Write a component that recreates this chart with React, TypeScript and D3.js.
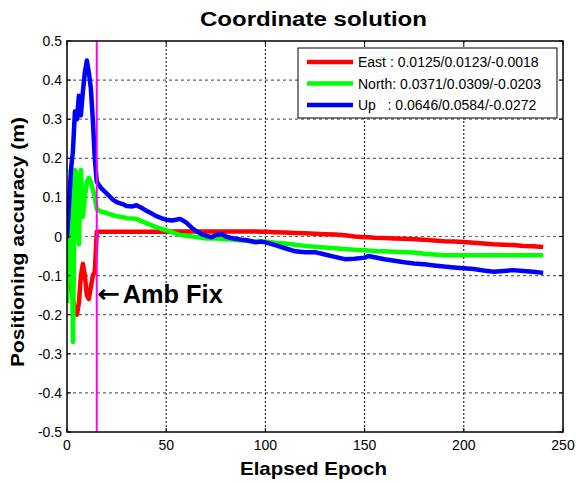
import { useEffect, useRef } from 'react'
import * as d3 from 'd3'

const epochs = [
    0, 1, 2, 3, 4, 5, 6, 7, 8, 9, 10, 11, 12, 13, 14, 15,
    17, 20, 23, 25, 28, 30, 33, 35, 38, 40,
    43, 45, 48, 50, 53, 55, 57, 60, 63, 65,
    68, 70, 73, 75, 78, 80, 83, 85, 88, 90,
    93, 95, 98, 100, 105, 110, 115, 120, 125, 130,
    135, 140, 145, 150, 152, 155, 160, 165, 170, 175,
    180, 185, 190, 195, 200, 205, 210, 215, 220, 225,
    230, 235, 240,
]

const east = [
    -0.12, -0.12, -0.13, -0.16, -0.19, -0.2, -0.17, -0.1, -0.07, -0.1, -0.15, -0.16, -0.13, -0.1, -0.09, 0.012,
    0.012, 0.012, 0.012, 0.012, 0.012, 0.012, 0.012, 0.012, 0.012, 0.012,
    0.012, 0.012, 0.012, 0.012, 0.013, 0.013, 0.013, 0.013, 0.013, 0.013,
    0.013, 0.013, 0.013, 0.013, 0.013, 0.013, 0.013, 0.013, 0.013, 0.013,
    0.013, 0.013, 0.012, 0.012, 0.011, 0.01, 0.009, 0.008, 0.007, 0.006,
    0.005, 0.003, 0.0, -0.002, -0.002, -0.003, -0.004, -0.005, -0.006, -0.007,
    -0.008, -0.01, -0.012, -0.013, -0.014, -0.016, -0.018, -0.02, -0.021, -0.022,
    -0.024, -0.025, -0.027,
]

const north = [
    -0.17, 0.0, 0.17, -0.27, 0.17, 0.16, -0.02, 0.17, 0.05, 0.1, 0.14, 0.15, 0.14, 0.12, 0.1, 0.07,
    0.064, 0.06, 0.055, 0.052, 0.05, 0.047, 0.046, 0.045, 0.038, 0.034,
    0.028, 0.024, 0.019, 0.016, 0.011, 0.007, 0.004, 0.002, 0.0, -0.001,
    -0.003, -0.005, -0.005, -0.005, -0.006, -0.007, -0.008, -0.009, -0.01, -0.011,
    -0.012, -0.012, -0.013, -0.013, -0.016, -0.018, -0.021, -0.024, -0.026, -0.028,
    -0.03, -0.032, -0.034, -0.035, -0.036, -0.037, -0.038, -0.039, -0.04, -0.041,
    -0.044, -0.046, -0.048, -0.048, -0.048, -0.048, -0.048, -0.048, -0.048, -0.048,
    -0.048, -0.048, -0.048,
]

const up = [
    -0.005, 0.08, 0.17, 0.22, 0.32, 0.3, 0.36, 0.31, 0.37, 0.42, 0.45, 0.42, 0.38, 0.3, 0.2, 0.14,
    0.125, 0.11, 0.095, 0.088, 0.083, 0.078, 0.077, 0.08, 0.072, 0.066,
    0.058, 0.052, 0.046, 0.043, 0.041, 0.043, 0.045, 0.036, 0.022, 0.014,
    0.006, 0.002, -0.002, 0.004, 0.006, 0.0, -0.004, -0.006, -0.008, -0.009,
    -0.012, -0.015, -0.013, -0.015, -0.022, -0.03, -0.038, -0.04, -0.04, -0.046,
    -0.052, -0.058, -0.057, -0.054, -0.05, -0.053, -0.058, -0.062, -0.066, -0.069,
    -0.071, -0.074, -0.077, -0.079, -0.081, -0.083, -0.087, -0.09, -0.088, -0.086,
    -0.088, -0.09, -0.093,
]

const seriesNames = ['East : 0.0125/0.0123/-0.0018', 'North: 0.0371/0.0309/-0.0203', 'Up   : 0.0646/0.0584/-0.0272']
const seriesColors = ['#ff0000', '#00ff00', '#0000ff']
const xTicks = [0, 50, 100, 150, 200, 250]
const yTicks = [-0.5, -0.4, -0.3, -0.2, -0.1, 0, 0.1, 0.2, 0.3, 0.4, 0.5]
const fixEpoch = 15

const FONT = 'Liberation Sans, Arial, Helvetica, sans-serif'

export default function App() {
    const svgRef = useRef<SVGSVGElement | null>(null)

    useEffect(() => {
        if (!svgRef.current) return
        const svg = d3.select(svgRef.current)
        svg.selectAll('*').remove()

        const left = 67, right = 563, top = 41, bottom = 432
        const x = d3.scaleLinear().domain([0, 250]).range([left, right])
        const y = d3.scaleLinear().domain([-0.5, 0.5]).range([bottom, top])

        svg.append('rect').attr('width', 576).attr('height', 483).attr('fill', '#fff')
        svg.append('defs').append('clipPath').attr('id', 'plotclip')
            .append('rect').attr('x', left).attr('y', top).attr('width', right - left).attr('height', bottom - top)

        // grid
        svg.selectAll('.hgrid')
            .data(yTicks.filter(t => t > -0.5 && t < 0.5))
            .enter().append('line')
            .attr('x1', left).attr('x2', right)
            .attr('y1', d => y(d)).attr('y2', d => y(d))
            .attr('stroke', '#666').attr('stroke-width', 1.2).attr('stroke-dasharray', '3,3')
        svg.selectAll('.vgrid')
            .data(xTicks.filter(t => t > 0 && t < 250))
            .enter().append('line')
            .attr('x1', d => x(d)).attr('x2', d => x(d))
            .attr('y1', top).attr('y2', bottom)
            .attr('stroke', '#000').attr('stroke-width', 1).attr('stroke-dasharray', '2,2')

        // data lines
        const data = [east, north, up]
        const line = d3.line<number>().x((_, i) => x(epochs[i])).y(d => y(d))
        const g = svg.append('g').attr('clip-path', 'url(#plotclip)')
        data.forEach((vals, k) => {
            g.append('path')
                .attr('d', line(vals))
                .attr('fill', 'none')
                .attr('stroke', seriesColors[k])
                .attr('stroke-width', 4.5)
                .attr('stroke-linejoin', 'round')
        })

        // ambiguity fix marker
        svg.append('line')
            .attr('x1', x(fixEpoch)).attr('x2', x(fixEpoch))
            .attr('y1', top).attr('y2', bottom)
            .attr('stroke', '#ff00ff').attr('stroke-width', 2)

        svg.append('text')
            .attr('x', x(fixEpoch) + 0.5).attr('y', 302)
            .attr('font-family', 'DejaVu Sans, sans-serif').attr('font-size', 24).attr('font-weight', 'bold')
            .attr('textLength', 23).attr('lengthAdjust', 'spacingAndGlyphs')
            .text('\u2190')
        svg.append('text')
            .attr('x', x(fixEpoch) + 26).attr('y', 303)
            .attr('font-family', FONT).attr('font-size', 25).attr('font-weight', 'bold')
            .attr('textLength', 100).attr('lengthAdjust', 'spacingAndGlyphs')
            .text('Amb Fix')

        // box + ticks
        svg.append('rect')
            .attr('x', left).attr('y', top).attr('width', right - left).attr('height', bottom - top)
            .attr('fill', 'none').attr('stroke', '#000').attr('stroke-width', 1.5)
        const tl = 4
        xTicks.forEach(t => {
            svg.append('line').attr('x1', x(t)).attr('x2', x(t)).attr('y1', bottom).attr('y2', bottom - tl).attr('stroke', '#000')
            svg.append('line').attr('x1', x(t)).attr('x2', x(t)).attr('y1', top).attr('y2', top + tl).attr('stroke', '#000')
        })
        yTicks.forEach(t => {
            svg.append('line').attr('x1', left).attr('x2', left + tl).attr('y1', y(t)).attr('y2', y(t)).attr('stroke', '#000')
            svg.append('line').attr('x1', right).attr('x2', right - tl).attr('y1', y(t)).attr('y2', y(t)).attr('stroke', '#000')
        })

        // tick labels
        svg.selectAll('.xlab')
            .data(xTicks)
            .enter().append('text')
            .attr('x', d => x(d)).attr('y', bottom + 18)
            .attr('text-anchor', 'middle')
            .attr('font-family', FONT).attr('font-size', 14)
            .text(d => String(d))
        svg.selectAll('.ylab')
            .data(yTicks)
            .enter().append('text')
            .attr('x', left - 5).attr('y', d => y(d) + 5)
            .attr('text-anchor', 'end')
            .attr('font-family', FONT).attr('font-size', 14)
            .text(d => String(+d.toFixed(1)))

        // titles
        svg.append('text')
            .attr('x', 200).attr('y', 26)
            .attr('font-family', FONT).attr('font-size', 20).attr('font-weight', 'bold')
            .attr('textLength', 227).attr('lengthAdjust', 'spacingAndGlyphs')
            .text('Coordinate solution')
        svg.append('text')
            .attr('x', 240).attr('y', 475)
            .attr('font-family', FONT).attr('font-size', 19).attr('font-weight', 'bold')
            .attr('textLength', 147).attr('lengthAdjust', 'spacingAndGlyphs')
            .text('Elapsed Epoch')
        svg.append('text')
            .attr('transform', 'translate(24,367) rotate(-90)')
            .attr('font-family', FONT).attr('font-size', 19).attr('font-weight', 'bold')
            .attr('textLength', 250).attr('lengthAdjust', 'spacingAndGlyphs')
            .text('Positioning accuracy (m)')

        // legend
        const lg = svg.append('g').attr('transform', 'translate(298,48)')
        lg.append('rect').attr('width', 259).attr('height', 70)
            .attr('fill', '#fff').attr('stroke', '#000').attr('stroke-width', 1)
        seriesNames.forEach((name, k) => {
            const ly = 14 + k * 21.5
            lg.append('line').attr('x1', 9).attr('x2', 55).attr('y1', ly).attr('y2', ly)
                .attr('stroke', seriesColors[k]).attr('stroke-width', 4.5)
            lg.append('text')
                .attr('x', 60).attr('y', ly + 5)
                .attr('font-family', FONT).attr('font-size', 14)
                .style('white-space', 'pre')
                .text(name)
        })
    }, [])

    return (
        <div style={{ position: 'fixed', left: 0, top: 0 }}>
            <svg ref={svgRef} width={576} height={483} style={{ display: 'block' }} />
        </div>
    )
}
